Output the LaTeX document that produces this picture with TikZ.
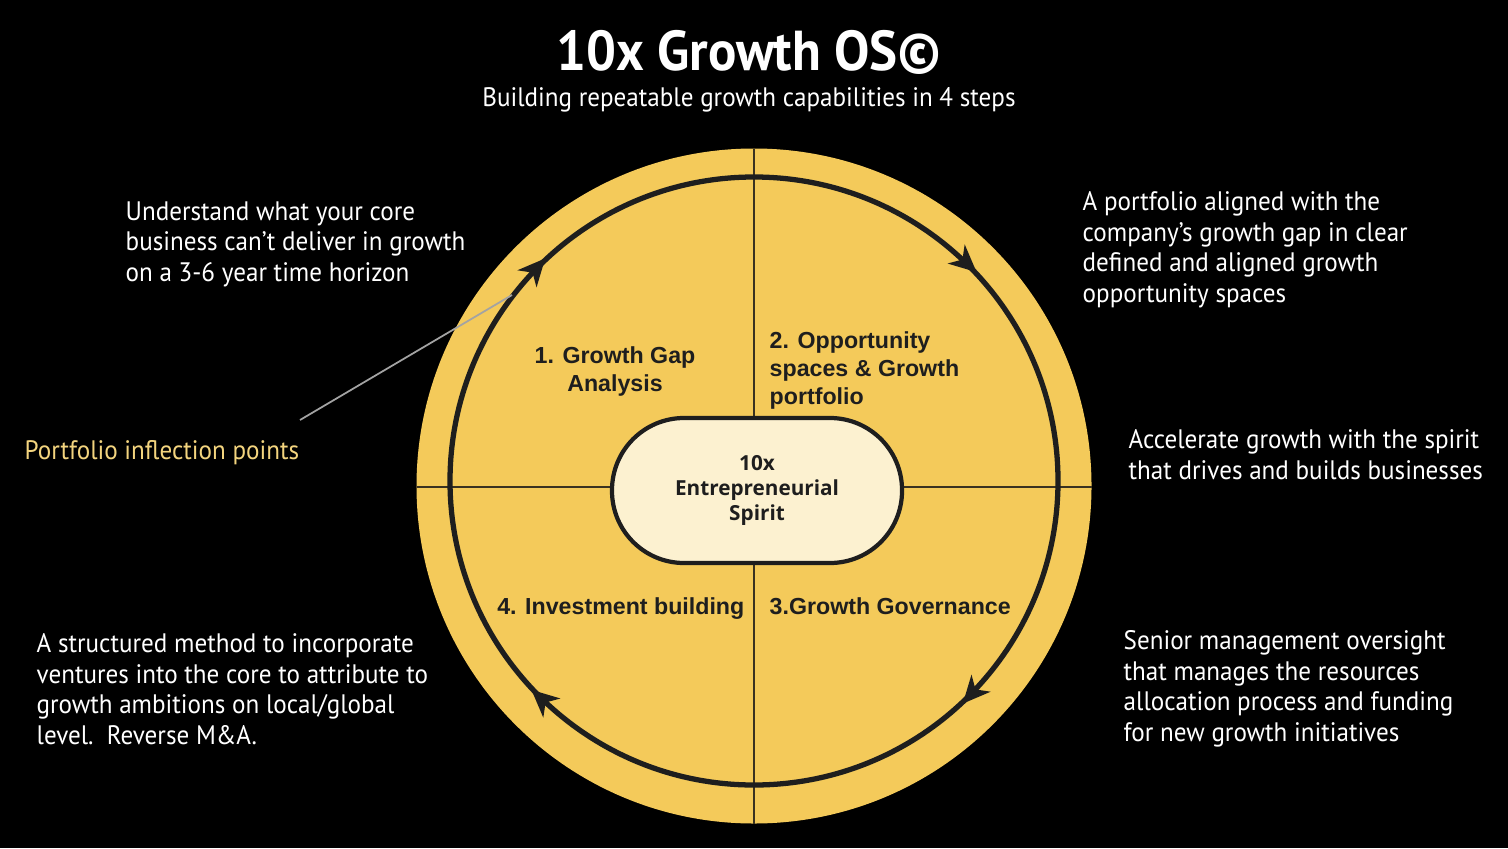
\documentclass[tikz,border=0pt]{standalone}
\usepackage{fontspec}
\setmainfont[FakeStretch=0.94]{PT Sans}
\newfontfamily\stagefont{Liberation Sans}
\newfontfamily\hubfont{Open Sans}
\usetikzlibrary{arrows.meta,decorations.markings}
\definecolor{ring-gold}{HTML}{F4CA5A}
\definecolor{hub-cream}{HTML}{FCF1D0}
\definecolor{dark-line}{HTML}{1E1E1E}
\definecolor{cross-line}{HTML}{3A3220}
\definecolor{pointer-grey}{HTML}{A3A3A3}
\definecolor{soft-gold}{HTML}{F3D47E}

\begin{document}
\begin{tikzpicture}[
    desc/.style={text=white, anchor=north west, align=left, inner sep=0pt,
      font=\fontsize{7.6}{8.7}\selectfont},
    stagelbl/.style={text=dark-line, inner sep=0pt,
      font=\stagefont\bfseries\fontsize{6.6}{8}\selectfont}]
    \fill[black] (0, 0) rectangle (15.08, 8.48);
    \useasboundingbox (0, 0) rectangle (15.08, 8.48);
    % title
    \node[text=white, font=\bfseries\fontsize{16}{18}\selectfont] (title) at (7.49, 7.96) {10x Growth OS©};
    \node[text=white, font=\fontsize{7.6}{9}\selectfont] (subtitle) at (7.49, 7.48) {Building repeatable growth capabilities in 4 steps};
    % wheel
    \fill[ring-gold] (7.54, 3.62) circle (3.375);
    \draw[cross-line, line width=0.6pt] (7.54, 0.245) -- (7.54, 6.995);
    \draw[cross-line, line width=0.6pt] (4.165, 3.61) -- (10.915, 3.61);
    \draw[dark-line, line width=1.5pt, postaction={decorate},
      decoration={markings, mark=between positions 0.134 and 0.884 step 0.25
        with {\arrow{Stealth[reversed, length=0.27cm, width=0.25cm, inset=0.08cm]}}}]
      (7.54, 3.67) circle (3.04);
    \node[draw=dark-line, line width=1.2pt, fill=hub-cream, rounded corners=0.72cm,
      minimum width=2.9cm, minimum height=1.45cm, align=center, text=dark-line,
      font=\hubfont\bfseries\fontsize{5.9}{7.1}\selectfont] (hub) at (7.57, 3.575)
      {10x\\Entrepreneurial\\Spirit};
    % stages
    \node[stagelbl, align=center] (s1) at (6.15, 4.765) {1. Growth Gap\\Analysis};
    \node[stagelbl, align=left, anchor=west] (s2) at (7.69, 4.775) {2. Opportunity\\spaces \& Growth\\portfolio};
    \node[stagelbl, anchor=base west] (s3) at (7.69, 2.34) {3.Growth Governance};
    \node[stagelbl, anchor=base east] (s4) at (7.45, 2.34) {4. Investment building};
    % descriptions
    \node[desc] (d1) at (1.25, 6.47) {Understand what your core\\business can't deliver in growth\\on a 3-6 year time horizon};
    \node[desc] (d2) at (10.82, 6.57) {A portfolio aligned with the\\company’s growth gap in clear\\defined and aligned growth\\opportunity spaces};
    \node[desc] (d3) at (11.28, 4.19) {Accelerate growth with the spirit\\that drives and builds businesses};
    \node[desc] (d4) at (11.23, 2.18) {Senior management oversight\\that manages the resources\\allocation process and funding\\for new growth initiatives};
    \node[desc] (d5) at (0.36, 2.15) {A structured method to incorporate\\ventures into the core to attribute to\\growth ambitions on local/global\\level.\ \ Reverse M\&A.};
    % inflection pointer
    \node[desc, text=soft-gold, anchor=west] (infl) at (0.24, 3.95) {Portfolio inflection points};
    \coordinate (infl start) at (3.00, 4.28);
    \coordinate (infl end) at (5.12, 5.53);
    \draw[pointer-grey, line width=0.5pt] (infl start) -- (infl end);
\end{tikzpicture}
\end{document}
